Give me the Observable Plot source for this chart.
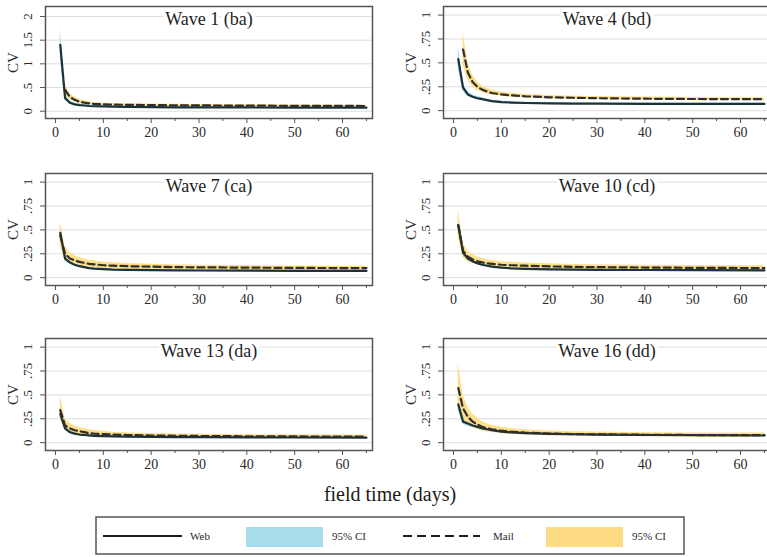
<!DOCTYPE html>
<html>
<head>
<meta charset="utf-8">
<script src="https://cdn.jsdelivr.net/npm/d3@7"></script>
<script src="https://cdn.jsdelivr.net/npm/@observablehq/plot@0.6"></script>
<style>
  html, body { margin: 0; padding: 0; background: #fff; }
  #root { position: relative; width: 767px; height: 557px; overflow: hidden; background: #fff; font-family: "Liberation Serif", "DejaVu Serif", serif; }
  .panel { position: absolute; }
  #xlabel { position: absolute; left: 190px; width: 400px; top: 483px; text-align: center; font-size: 20px; color: #1a1a1a; z-index: 5; }
  #legend { position: absolute; left: 0; top: 0; z-index: 4; }
</style>
</head>
<body>
<div id="root"></div>
<script>
// ---------- data ----------
const days = [1, 2, 3, 4, 5, 6, 7, 8, 10, 12, 15, 20, 25, 30, 40, 50, 65];

const titles = ["Wave 1 (ba)", "Wave 4 (bd)", "Wave 7 (ca)", "Wave 10 (cd)", "Wave 13 (da)", "Wave 16 (dd)"];

const xTicks = [0, 10, 20, 30, 40, 50, 60];
const xMinorTicks = [5, 15, 25, 35, 45, 55, 65];
const yTicksWave1 = [0, 0.5, 1, 1.5, 2];
const yLabelsWave1 = ["0", ".5", "1", "1.5", "2"];
const yTicksOther = [0, 0.25, 0.5, 0.75, 1];
const yLabelsOther = ["0", ".25", ".5", ".75", "1"];
const yAxisLabel = "CV";
const xAxisLabel = "field time (days)";

const legendLabels = ["Web", "95% CI", "Mail", "95% CI"];

// Wave 1 (ba)
const web1   = [1.40, 0.28, 0.18, 0.145, 0.13, 0.12, 0.11, 0.105, 0.10, 0.095, 0.09, 0.086, 0.083, 0.081, 0.079, 0.077, 0.075];
const web1Lo = [1.10, 0.22, 0.15, 0.12, 0.11, 0.10, 0.095, 0.09, 0.087, 0.083, 0.08, 0.077, 0.074, 0.072, 0.070, 0.068, 0.066];
const web1Hi = [1.75, 0.34, 0.22, 0.17, 0.15, 0.14, 0.13, 0.12, 0.115, 0.108, 0.10, 0.096, 0.093, 0.091, 0.089, 0.087, 0.084];
const mail1   = [null, 0.45, 0.30, 0.24, 0.20, 0.18, 0.165, 0.155, 0.145, 0.14, 0.135, 0.13, 0.125, 0.122, 0.118, 0.114, 0.11];
const mail1Lo = [null, 0.35, 0.24, 0.195, 0.165, 0.15, 0.138, 0.13, 0.122, 0.117, 0.113, 0.109, 0.105, 0.102, 0.099, 0.096, 0.093];
const mail1Hi = [null, 0.56, 0.37, 0.30, 0.25, 0.22, 0.198, 0.185, 0.17, 0.164, 0.158, 0.152, 0.146, 0.142, 0.137, 0.133, 0.128];

// Wave 4 (bd)
const web4   = [0.54, 0.24, 0.17, 0.145, 0.13, 0.12, 0.11, 0.10, 0.09, 0.085, 0.08, 0.076, 0.074, 0.073, 0.072, 0.071, 0.07];
const web4Lo = [0.44, 0.20, 0.15, 0.13, 0.115, 0.105, 0.097, 0.09, 0.082, 0.078, 0.074, 0.07, 0.068, 0.067, 0.066, 0.065, 0.064];
const web4Hi = [0.68, 0.29, 0.20, 0.165, 0.148, 0.135, 0.123, 0.112, 0.10, 0.094, 0.088, 0.083, 0.081, 0.08, 0.079, 0.078, 0.077];
const mail4   = [null, 0.64, 0.40, 0.30, 0.25, 0.22, 0.20, 0.185, 0.17, 0.16, 0.15, 0.14, 0.135, 0.13, 0.125, 0.122, 0.12];
const mail4Lo = [null, 0.48, 0.32, 0.25, 0.21, 0.19, 0.175, 0.165, 0.15, 0.142, 0.134, 0.125, 0.12, 0.116, 0.112, 0.109, 0.107];
const mail4Hi = [null, 0.83, 0.50, 0.37, 0.30, 0.26, 0.235, 0.215, 0.195, 0.182, 0.17, 0.158, 0.152, 0.147, 0.142, 0.138, 0.135];

// Wave 7 (ca)
const web7   = [0.47, 0.20, 0.16, 0.135, 0.12, 0.11, 0.10, 0.095, 0.09, 0.085, 0.082, 0.078, 0.076, 0.075, 0.073, 0.072, 0.07];
const web7Lo = [0.40, 0.17, 0.14, 0.12, 0.107, 0.098, 0.09, 0.085, 0.08, 0.076, 0.073, 0.07, 0.068, 0.067, 0.065, 0.064, 0.063];
const web7Hi = [0.55, 0.23, 0.18, 0.15, 0.133, 0.122, 0.11, 0.105, 0.10, 0.094, 0.09, 0.086, 0.084, 0.083, 0.081, 0.08, 0.078];
const mail7   = [0.44, 0.25, 0.20, 0.18, 0.165, 0.155, 0.145, 0.14, 0.13, 0.125, 0.12, 0.115, 0.11, 0.108, 0.105, 0.102, 0.10];
const mail7Lo = [0.33, 0.18, 0.15, 0.135, 0.125, 0.115, 0.108, 0.103, 0.095, 0.09, 0.086, 0.082, 0.079, 0.077, 0.075, 0.073, 0.072];
const mail7Hi = [0.58, 0.32, 0.26, 0.23, 0.21, 0.195, 0.182, 0.174, 0.162, 0.155, 0.148, 0.14, 0.134, 0.13, 0.126, 0.123, 0.12];

// Wave 10 (cd)
const web10   = [0.55, 0.26, 0.20, 0.17, 0.15, 0.135, 0.125, 0.115, 0.105, 0.098, 0.092, 0.087, 0.084, 0.082, 0.08, 0.078, 0.076];
const web10Lo = [0.47, 0.22, 0.17, 0.15, 0.135, 0.122, 0.113, 0.105, 0.096, 0.09, 0.085, 0.08, 0.077, 0.075, 0.073, 0.071, 0.069];
const web10Hi = [0.64, 0.30, 0.23, 0.195, 0.17, 0.15, 0.138, 0.127, 0.116, 0.108, 0.10, 0.095, 0.092, 0.09, 0.088, 0.086, 0.084];
const mail10   = [0.55, 0.28, 0.22, 0.19, 0.17, 0.16, 0.15, 0.145, 0.135, 0.13, 0.125, 0.118, 0.113, 0.11, 0.106, 0.103, 0.10];
const mail10Lo = [0.42, 0.21, 0.17, 0.15, 0.135, 0.126, 0.118, 0.112, 0.103, 0.098, 0.093, 0.088, 0.084, 0.081, 0.078, 0.076, 0.074];
const mail10Hi = [0.71, 0.36, 0.28, 0.24, 0.215, 0.20, 0.188, 0.18, 0.167, 0.16, 0.153, 0.145, 0.139, 0.135, 0.13, 0.127, 0.124];

// Wave 13 (da)
const web13   = [0.30, 0.15, 0.11, 0.095, 0.085, 0.08, 0.076, 0.072, 0.068, 0.065, 0.062, 0.06, 0.058, 0.057, 0.055, 0.054, 0.052];
const web13Lo = [0.25, 0.13, 0.095, 0.083, 0.076, 0.071, 0.067, 0.064, 0.06, 0.058, 0.056, 0.054, 0.052, 0.051, 0.05, 0.049, 0.047];
const web13Hi = [0.36, 0.17, 0.125, 0.108, 0.095, 0.089, 0.085, 0.08, 0.076, 0.072, 0.069, 0.066, 0.064, 0.063, 0.061, 0.06, 0.058];
const mail13   = [0.34, 0.18, 0.15, 0.13, 0.12, 0.11, 0.10, 0.095, 0.09, 0.085, 0.08, 0.075, 0.072, 0.07, 0.067, 0.065, 0.063];
const mail13Lo = [0.24, 0.13, 0.11, 0.095, 0.087, 0.08, 0.074, 0.07, 0.066, 0.062, 0.058, 0.055, 0.053, 0.051, 0.049, 0.048, 0.046];
const mail13Hi = [0.49, 0.25, 0.20, 0.175, 0.158, 0.145, 0.134, 0.126, 0.116, 0.109, 0.102, 0.095, 0.091, 0.088, 0.084, 0.082, 0.08];

// Wave 16 (dd)
const web16   = [0.40, 0.22, 0.20, 0.18, 0.165, 0.15, 0.14, 0.13, 0.115, 0.108, 0.10, 0.092, 0.088, 0.085, 0.08, 0.078, 0.075];
const web16Lo = [0.33, 0.19, 0.17, 0.155, 0.143, 0.132, 0.123, 0.116, 0.104, 0.098, 0.091, 0.084, 0.08, 0.077, 0.073, 0.071, 0.068];
const web16Hi = [0.48, 0.26, 0.23, 0.205, 0.188, 0.17, 0.158, 0.146, 0.128, 0.119, 0.11, 0.101, 0.096, 0.093, 0.088, 0.085, 0.082];
const mail16   = [0.57, 0.36, 0.27, 0.22, 0.19, 0.165, 0.15, 0.14, 0.125, 0.115, 0.105, 0.095, 0.09, 0.087, 0.083, 0.08, 0.078];
const mail16Lo = [0.38, 0.25, 0.19, 0.16, 0.14, 0.125, 0.114, 0.107, 0.096, 0.089, 0.081, 0.073, 0.069, 0.066, 0.062, 0.06, 0.058];
const mail16Hi = [0.83, 0.50, 0.37, 0.30, 0.255, 0.22, 0.198, 0.182, 0.16, 0.148, 0.135, 0.121, 0.115, 0.111, 0.105, 0.102, 0.10];

// ---------- styling ----------
const FONT = '"Liberation Serif", "DejaVu Serif", serif';
const BLUE = "#a9dcea";
const YELLOW = "#fddc84";
const WEB_COLOR = "#1d3238";
const MAIL_COLOR = "#2e2e2e";
const TEXT = "#2a2a2a";
const FRAME = "#555";

const panels = [
  {title: titles[0], web: web1, lo: web1Lo, hi: web1Hi, mail: mail1, mlo: mail1Lo, mhi: mail1Hi, ticks: yTicksWave1, labels: yLabelsWave1, ydom: [-0.154, 2.211], col: 0, row: 0},
  {title: titles[1], web: web4, lo: web4Lo, hi: web4Hi, mail: mail4, mlo: mail4Lo, mhi: mail4Hi, ticks: yTicksOther, labels: yLabelsOther, ydom: [-0.082, 1.09], col: 1, row: 0},
  {title: titles[2], web: web7, lo: web7Lo, hi: web7Hi, mail: mail7, mlo: mail7Lo, mhi: mail7Hi, ticks: yTicksOther, labels: yLabelsOther, ydom: [-0.082, 1.09], col: 0, row: 1},
  {title: titles[3], web: web10, lo: web10Lo, hi: web10Hi, mail: mail10, mlo: mail10Lo, mhi: mail10Hi, ticks: yTicksOther, labels: yLabelsOther, ydom: [-0.082, 1.09], col: 1, row: 1},
  {title: titles[4], web: web13, lo: web13Lo, hi: web13Hi, mail: mail13, mlo: mail13Lo, mhi: mail13Hi, ticks: yTicksOther, labels: yLabelsOther, ydom: [-0.082, 1.09], col: 0, row: 2},
  {title: titles[5], web: web16, lo: web16Lo, hi: web16Hi, mail: mail16, mlo: mail16Lo, mhi: mail16Hi, ticks: yTicksOther, labels: yLabelsOther, ydom: [-0.082, 1.09], col: 1, row: 2}
];

const rowTops = [0, 167, 332];
const root = document.getElementById("root");

for (const p of panels) {
  const rows = days.map((d, i) => ({
    day: d, web: p.web[i], lo: p.lo[i], hi: p.hi[i],
    mail: p.mail[i], mlo: p.mlo[i], mhi: p.mhi[i]
  }));
  const left = p.col === 0 ? 0 : 385;
  const width = p.col === 0 ? 380 : 385;
  const marginLeft = p.col === 0 ? 45 : 58;
  const marginRight = p.col === 0 ? 8 : 0;

  const chart = Plot.plot({
    width, height: 150,
    marginLeft, marginRight, marginTop: 6, marginBottom: 32,
    style: {fontFamily: FONT, background: "transparent", color: TEXT, overflow: "visible"},
    x: {domain: [-2.09, 66.27], label: null},
    y: {domain: p.ydom, label: null},
    marks: [
      Plot.ruleY(p.ticks, {stroke: "#dedede", strokeWidth: 1}),
      Plot.areaY(rows, {x: "day", y1: "lo", y2: "hi", fill: BLUE, fillOpacity: 1}),
      Plot.areaY(rows, {x: "day", y1: "mlo", y2: "mhi", fill: YELLOW, fillOpacity: 0.95}),
      Plot.lineY(rows, {x: "day", y: "web", stroke: WEB_COLOR, strokeWidth: 2.2}),
      Plot.lineY(rows, {x: "day", y: "mail", stroke: MAIL_COLOR, strokeWidth: 2.2, strokeDasharray: "7,4"}),
      Plot.text([p.title], {frameAnchor: "top", dy: 13, lineAnchor: "middle", fontSize: 18, fill: "#1e1e1e", stroke: "white", strokeWidth: 7}),
      Plot.frame({stroke: FRAME, strokeWidth: 1.5}),
      Plot.axisX({ticks: xTicks, tickSize: 5, tickPadding: 4, fontSize: 14, stroke: FRAME, label: null}),
      Plot.axisX({ticks: xMinorTicks, tickSize: 3, tickFormat: () => "", stroke: FRAME, label: null}),
      Plot.axisY({ticks: p.ticks, tickSize: 5, tickFormat: () => "", stroke: FRAME, label: null}),
      Plot.text(p.ticks, {y: (d) => d, text: (d, i) => p.labels[i], frameAnchor: "left", dx: -18, rotate: -90, textAnchor: "middle", lineAnchor: "middle", fontSize: 13, fill: TEXT}),
      Plot.text([yAxisLabel], {frameAnchor: "left", dx: -32, rotate: -90, textAnchor: "middle", lineAnchor: "middle", fontSize: 15, fill: TEXT})
    ]
  });
  chart.classList.add("panel");
  chart.style.left = left + "px";
  chart.style.top = rowTops[p.row] + "px";
  root.appendChild(chart);
}

// ---------- x-axis title ----------
const xl = document.createElement("div");
xl.id = "xlabel";
xl.textContent = xAxisLabel;
root.appendChild(xl);

// ---------- legend ----------
const lg = d3.create("svg")
  .attr("id", "legend")
  .attr("width", 767).attr("height", 557)
  .style("font-family", FONT);
lg.append("rect").attr("x", 96).attr("y", 517).attr("width", 588).attr("height", 37)
  .attr("fill", "white").attr("stroke", FRAME).attr("stroke-width", 1.5);
lg.append("line").attr("x1", 103).attr("x2", 182).attr("y1", 536).attr("y2", 536)
  .attr("stroke", "#1e1e1e").attr("stroke-width", 2);
lg.append("text").attr("x", 190).attr("y", 540).attr("font-size", 11).attr("fill", TEXT).text(legendLabels[0]);
lg.append("rect").attr("x", 246).attr("y", 527).attr("width", 77).attr("height", 20).attr("fill", BLUE);
lg.append("text").attr("x", 332).attr("y", 540).attr("font-size", 11).attr("fill", TEXT).text(legendLabels[1]);
lg.append("line").attr("x1", 403).attr("x2", 480).attr("y1", 536).attr("y2", 536)
  .attr("stroke", "#1e1e1e").attr("stroke-width", 2).attr("stroke-dasharray", "9,5");
lg.append("text").attr("x", 493).attr("y", 540).attr("font-size", 11).attr("fill", TEXT).text(legendLabels[2]);
lg.append("rect").attr("x", 546).attr("y", 527).attr("width", 77).attr("height", 20).attr("fill", YELLOW);
lg.append("text").attr("x", 632).attr("y", 540).attr("font-size", 11).attr("fill", TEXT).text(legendLabels[3]);
root.appendChild(lg.node());
</script>
</body>
</html>
